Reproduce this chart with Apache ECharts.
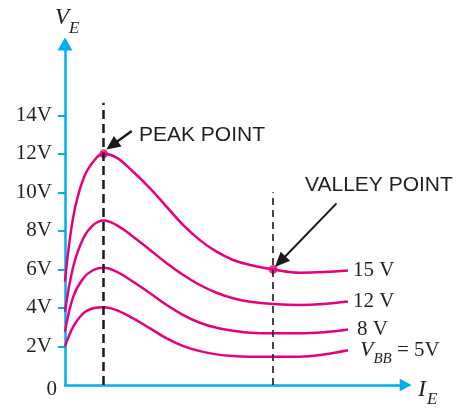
<!DOCTYPE html>
<html>
<head>
<meta charset="utf-8">
<script src="https://cdn.jsdelivr.net/npm/echarts@6/dist/echarts.min.js"></script>
<style>
  html, body { margin: 0; padding: 0; background: #fff; }
  #chart { width: 456px; height: 409px; }
</style>
</head>
<body>
<div id="chart"></div>
<script>
  // emitter current I_E (arbitrary units along the axis)
  var iE = [0, 2.4, 5.3, 8.2, 11.2, 14.9, 19.7, 24.6, 29.4, 34.2, 39.0, 43.8, 48.6, 53.5, 60.2, 67.9, 74.8, 81.8];
  // emitter voltage V_E for each V_BB
  var vBB15 = [5.37, 8.74, 10.7, 11.6, 12.0, 11.8, 11.07, 10.21, 9.25, 8.3, 7.52, 6.92, 6.49, 6.23, 6.0, 5.83, 5.86, 5.94];
  var vBB12 = [3.8, 6.15, 7.62, 8.31, 8.54, 8.3, 7.7, 7.01, 6.32, 5.71, 5.19, 4.79, 4.5, 4.32, 4.2, 4.15, 4.2, 4.33];
  var vBB8 = [2.77, 4.59, 5.54, 5.97, 6.09, 5.88, 5.36, 4.76, 4.15, 3.63, 3.23, 2.97, 2.82, 2.71, 2.68, 2.68, 2.74, 2.88];
  var vBB5 = [2.0, 3.03, 3.72, 3.98, 4.04, 3.89, 3.46, 2.94, 2.42, 2.02, 1.76, 1.59, 1.5, 1.47, 1.47, 1.47, 1.58, 1.8];
  var curveLabels = ['15 V', '12 V', '8 V', '{i|V}{s|BB}{n| = 5V}'];
  var yTickValues = [2, 4, 6, 8, 10, 12, 14];
  var yLabelValues = [0, 2, 4, 6, 8, 10, 12, 14];

  var peakPoint = [11.2, 12.0];
  var valleyPoint = [60.2, 6.0];
  var peakGuideTop = 14.65;
  var valleyGuideTop = 10.0;
  var peakArrow = [[19.3, 13.18], [13.6, 12.44]];
  var valleyArrow = [[78.5, 9.43], [62.2, 6.4]];

  var PINK = '#E6007E';
  var BLUE = '#00AEEF';
  var INK = '#231F20';
  var SERIF = '"Liberation Serif", "Times New Roman", serif';
  var SANS = '"Liberation Sans", Arial, sans-serif';

  var chart = echarts.init(document.getElementById('chart'));

  function pairs(vals) {
    return iE.map(function (x, i) { return [x, vals[i]]; });
  }

  var labelDist = [5, 5, 9, 12];
  var curves = [vBB15, vBB12, vBB8, vBB5].map(function (vals, k) {
    return {
      type: 'line',
      data: pairs(vals),
      smooth: 0.4,
      showSymbol: false,
      lineStyle: { color: PINK, width: 2.5 },
      z: 3,
      endLabel: {
        show: true,
        distance: labelDist[k],
        formatter: curveLabels[k],
        fontFamily: SERIF,
        fontSize: 21,
        color: INK,
        rich: {
          i: { fontFamily: SERIF, fontStyle: 'italic', fontSize: 22, lineHeight: 32, color: INK },
          s: { fontFamily: SERIF, fontStyle: 'italic', fontSize: 15, lineHeight: 14, padding: [18, 0, 0, 0], color: INK },
          n: { fontFamily: SERIF, fontSize: 21, lineHeight: 32, color: INK }
        }
      }
    };
  });

  // guide lines and arrows, first point carries the style
  function seg(a, b, style, endSymbol, size) {
    var end = { coord: b, symbol: endSymbol || 'none' };
    if (size) { end.symbolSize = size; }
    return [{ coord: a, symbol: 'none', lineStyle: style }, end];
  }

  var marks = {
    type: 'scatter',
    data: [peakPoint, valleyPoint],
    symbolSize: 9,
    itemStyle: { color: PINK },
    z: 4,
    markLine: {
      silent: true,
      animation: false,
      label: { show: false },
      emphasis: { disabled: true },
      data: [
        seg([peakPoint[0], 0], [peakPoint[0], peakGuideTop], { color: '#1a1a1a', width: 2.5, type: [9, 5] }),
        seg([valleyPoint[0], 0], [valleyPoint[0], valleyGuideTop], { color: '#1a1a1a', width: 1.6, type: [7, 5] }),
        seg(peakArrow[0], peakArrow[1], { color: '#1a1a1a', width: 2.4, type: 'solid' }, 'triangle', [13, 14]),
        seg(valleyArrow[0], valleyArrow[1], { color: '#1a1a1a', width: 2, type: 'solid' }, 'triangle', [13, 15])
      ]
    }
  };

  var option = {
    animation: false,
    grid: { left: 65, right: 50.3, top: 44, bottom: 24 },
    xAxis: {
      type: 'value',
      min: 0,
      max: 98.5,
      axisLine: {
        show: true,
        lineStyle: { color: BLUE, width: 2.5 },
        symbol: ['none', 'triangle'],
        symbolSize: [12.5, 12]
      },
      axisTick: { show: false },
      axisLabel: { show: false },
      splitLine: { show: false }
    },
    yAxis: {
      type: 'value',
      min: 0,
      max: 17.7,
      interval: 2,
      axisLine: {
        show: true,
        lineStyle: { color: BLUE, width: 2.5 },
        symbol: ['none', 'triangle'],
        symbolSize: [15, 13]
      },
      axisTick: {
        show: true,
        customValues: yTickValues,
        length: 7,
        lineStyle: { color: BLUE, width: 2 }
      },
      axisLabel: {
        customValues: yLabelValues,
        margin: 8,
        formatter: function (v) {
          return v === 0 ? '{z|0}' : '{t|' + v + 'V}';
        },
        rich: {
          z: { fontFamily: SERIF, fontSize: 21, color: INK, padding: [8, 0, 0, 0] },
          t: { fontFamily: SERIF, fontSize: 21, color: INK, padding: [0, 5, 0, 0] }
        }
      },
      splitLine: { show: false }
    },
    graphic: [
      { type: 'text', x: 55, y: 18, style: { text: 'V', font: 'italic 23px ' + SERIF, fill: INK, verticalAlign: 'middle' } },
      { type: 'text', x: 69, y: 29, style: { text: 'E', font: 'italic 17px ' + SERIF, fill: INK, verticalAlign: 'middle' } },
      { type: 'text', x: 418, y: 390, style: { text: 'I', font: 'italic 24px ' + SERIF, fill: INK, verticalAlign: 'middle' } },
      { type: 'text', x: 427, y: 400, style: { text: 'E', font: 'italic 17px ' + SERIF, fill: INK, verticalAlign: 'middle' } },
      { type: 'text', x: 139, y: 135, style: { text: 'PEAK POINT', font: '21px ' + SANS, fill: INK, verticalAlign: 'middle' } },
      { type: 'text', x: 305, y: 185, style: { text: 'VALLEY POINT', font: '21px ' + SANS, fill: INK, verticalAlign: 'middle' } }
    ],
    series: curves.concat([marks])
  };

  chart.setOption(option);
</script>
</body>
</html>
